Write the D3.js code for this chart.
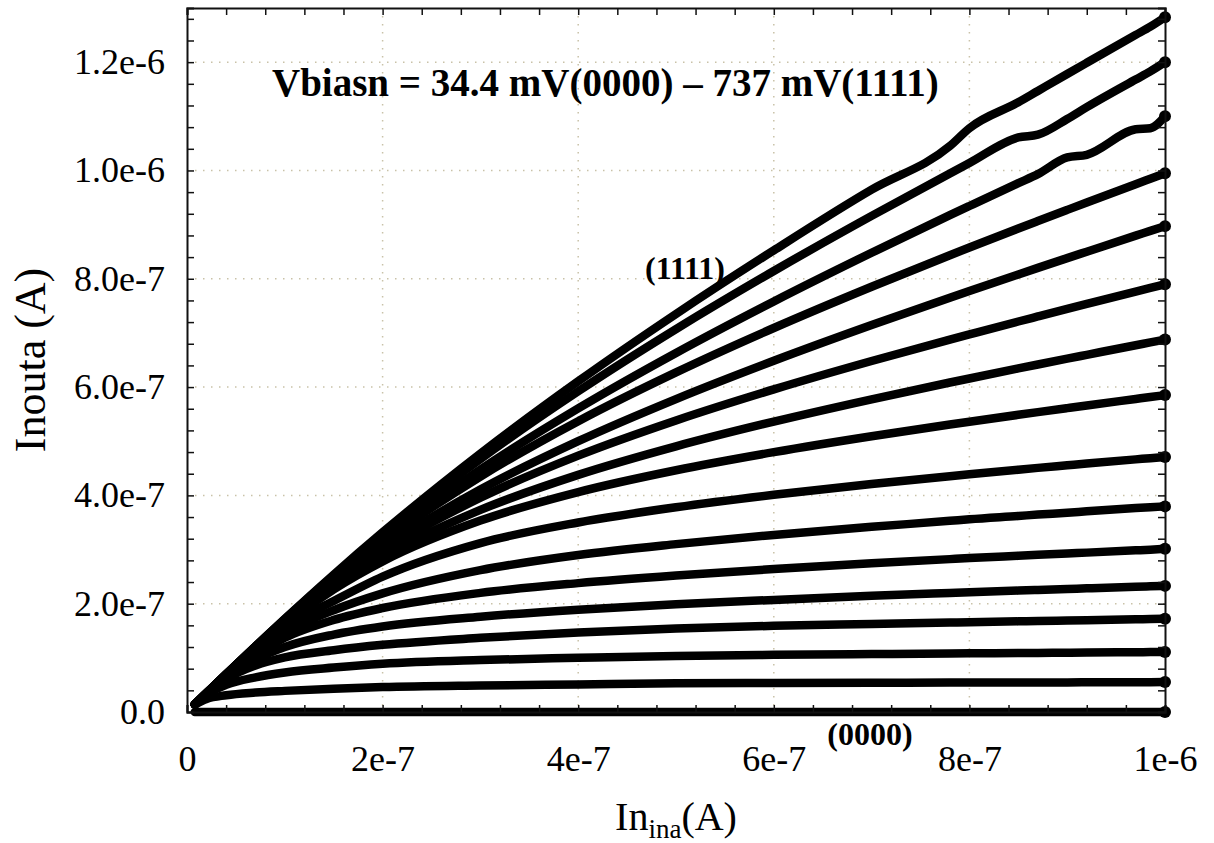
<!DOCTYPE html>
<html>
<head>
<meta charset="utf-8">
<script src="https://cdn.jsdelivr.net/npm/d3@7"></script>
<style>
    body { margin: 0; background: #fff; }
    svg text { font-family: "Liberation Serif", "Times New Roman", serif; fill: #000; }
</style>
</head>
<body>
<div id="chart"></div>
<script>
// In_ina sweep, in uA
var inIna = [0.008, 0.02, 0.04, 0.07, 0.1, 0.15, 0.2, 0.3, 0.4, 0.5, 0.6, 0.7, 0.78, 0.8, 0.85, 0.87, 0.9, 0.92, 0.97, 0.985, 1.0];

// Inouta for each Vbiasn code, in uA
var code1111 = [0.014, 0.035, 0.0698, 0.1214, 0.172, 0.2537, 0.3317, 0.4772, 0.6107, 0.7351, 0.8525, 0.9646, 1.045, 1.078, 1.1259, 1.1468, 1.1781, 1.1988, 1.2503, 1.2656, 1.283];
var code1110 = [0.014, 0.035, 0.0697, 0.1211, 0.1713, 0.2517, 0.3276, 0.4669, 0.5922, 0.7071, 0.8144, 0.9161, 0.9944, 1.0137, 1.061, 1.066, 1.095, 1.117, 1.168, 1.183, 1.200];
var code1101 = [0.014, 0.035, 0.0696, 0.1205, 0.1698, 0.2473, 0.3191, 0.4477, 0.5606, 0.663, 0.7581, 0.848, 0.9174, 0.9344, 0.9766, 0.9932, 1.024, 1.029, 1.076, 1.078, 1.100];
var code1100 = [0.014, 0.0349, 0.0696, 0.1203, 0.169, 0.2451, 0.3143, 0.4348, 0.5371, 0.6272, 0.7091, 0.7853, 0.8435, 0.8577, 0.8928, 0.9066, 0.9272, 0.9409, 0.9747, 0.9847, 0.9947];
var code1011 = [0.014, 0.0349, 0.0694, 0.1194, 0.1667, 0.2389, 0.3029, 0.4107, 0.5, 0.5778, 0.6485, 0.7145, 0.765, 0.7774, 0.808, 0.8201, 0.8381, 0.85, 0.8797, 0.8884, 0.8972];
var code1010 = [0.014, 0.0349, 0.0693, 0.1191, 0.1659, 0.2362, 0.2971, 0.3957, 0.4734, 0.5384, 0.5957, 0.6481, 0.6877, 0.6973, 0.7211, 0.7304, 0.7443, 0.7535, 0.7763, 0.783, 0.7898];
var code1001 = [0.014, 0.0349, 0.0692, 0.1184, 0.1639, 0.2308, 0.2866, 0.3731, 0.4379, 0.4906, 0.5362, 0.5774, 0.6084, 0.6159, 0.6344, 0.6417, 0.6525, 0.6596, 0.6773, 0.6825, 0.6878];
var code1000 = [0.014, 0.0349, 0.0691, 0.1178, 0.1625, 0.2265, 0.2781, 0.3535, 0.4061, 0.4464, 0.4798, 0.5092, 0.5308, 0.536, 0.5488, 0.5538, 0.5612, 0.5661, 0.5781, 0.5817, 0.5852];
var code0111 = [0.014, 0.0348, 0.0687, 0.116, 0.157, 0.205, 0.25, 0.312, 0.35, 0.378, 0.401, 0.421, 0.4355, 0.439, 0.4475, 0.4508, 0.4556, 0.4588, 0.4665, 0.4687, 0.471];
var code0110 = [0.014, 0.0348, 0.068, 0.112, 0.147, 0.188, 0.219, 0.262, 0.29, 0.31, 0.327, 0.342, 0.353, 0.356, 0.362, 0.3645, 0.368, 0.3705, 0.3765, 0.3781, 0.3797];
var code0101 = [0.014, 0.0346, 0.067, 0.106, 0.137, 0.17, 0.192, 0.22, 0.238, 0.252, 0.264, 0.2745, 0.2823, 0.2842, 0.2885, 0.2902, 0.2927, 0.2943, 0.2985, 0.2998, 0.3014];
var code0100 = [0.014, 0.0344, 0.065, 0.097, 0.12, 0.143, 0.158, 0.176, 0.189, 0.199, 0.207, 0.2145, 0.2198, 0.2211, 0.2242, 0.2254, 0.2272, 0.2284, 0.2313, 0.2321, 0.2329];
var code0011 = [0.014, 0.034, 0.061, 0.086, 0.101, 0.114, 0.124, 0.137, 0.147, 0.154, 0.1591, 0.1625, 0.1652, 0.1658, 0.1674, 0.1681, 0.169, 0.1696, 0.1712, 0.1717, 0.1722];
var code0010 = [0.0139, 0.032, 0.05, 0.064, 0.073, 0.082, 0.089, 0.096, 0.1, 0.1035, 0.1055, 0.107, 0.1081, 0.1083, 0.1089, 0.1091, 0.1095, 0.1097, 0.1104, 0.1106, 0.1108];
var code0001 = [0.0135, 0.024, 0.031, 0.036, 0.039, 0.043, 0.046, 0.049, 0.051, 0.053, 0.0535, 0.054, 0.0543, 0.0544, 0.0545, 0.0546, 0.0547, 0.0548, 0.0549, 0.055, 0.0552];
var code0000 = [0, 0, 0, 0, 0, 0, 0, 0, 0, 0, 0, 0, 0, 0, 0, 0, 0, 0, 0, 0, 0];

var curves = [code1111, code1110, code1101, code1100, code1011, code1010, code1001, code1000,
              code0111, code0110, code0101, code0100, code0011, code0010, code0001, code0000];

var xTickValues = [0, 2e-7, 4e-7, 6e-7, 8e-7, 1e-6];
var xTickLabels = ["0", "2e-7", "4e-7", "6e-7", "8e-7", "1e-6"];
var yTickValues = [0, 2e-7, 4e-7, 6e-7, 8e-7, 1e-6, 1.2e-6];
var yTickLabels = ["0.0", "2.0e-7", "4.0e-7", "6.0e-7", "8.0e-7", "1.0e-6", "1.2e-6"];

var svgWidth = 1214;
var svgHeight = 843;
var margin = {top: 8, right: 49, bottom: 131, left: 187};
var width = svgWidth - margin.left - margin.right;
var height = svgHeight - margin.top - margin.bottom;

var svgBG = d3.select("#chart").append("svg")
    .attr("width", svgWidth)
    .attr("height", svgHeight);
var svg = svgBG.append("g")
    .attr("transform", "translate(" + margin.left + "," + margin.top + ")");

var x = d3.scaleLinear().domain([0, 1e-6]).range([0, width]);
var y = d3.scaleLinear().domain([0, 1.3e-6]).range([height, 0]);

// label only the major ticks, minor ones stay blank
function labelFor(values, labels) {
    return function(d) {
        for (var i = 0; i < values.length; i++) {
            if (Math.abs(values[i] - d) < 1e-12) return labels[i];
        }
        return "";
    };
}

var xMinor = d3.range(0, 1.0001e-6, 4e-8);
var yMinor = d3.range(0, 1.3e-6, 4e-8);

// dotted grid
var gridColor = "#c9c2a8";
svg.append("g").selectAll("line")
    .data(xTickValues.slice(1, -1))
    .enter().append("line")
    .attr("x1", function(d) { return x(d); })
    .attr("x2", function(d) { return x(d); })
    .attr("y1", 0)
    .attr("y2", height)
    .style("stroke", gridColor)
    .style("stroke-width", 1.5)
    .style("stroke-dasharray", "1.5,6.5");
svg.append("g").selectAll("line")
    .data(yTickValues.slice(1))
    .enter().append("line")
    .attr("x1", 0)
    .attr("x2", width)
    .attr("y1", function(d) { return y(d); })
    .attr("y2", function(d) { return y(d); })
    .style("stroke", gridColor)
    .style("stroke-width", 1.5)
    .style("stroke-dasharray", "1.5,6.5");

// curves
var line = d3.line()
    .x(function(d, i) { return x(inIna[i] * 1e-6); })
    .y(function(d) { return y(d * 1e-6); })
    .curve(d3.curveMonotoneX);

svg.append("g").selectAll("path")
    .data(curves)
    .enter().append("path")
    .attr("d", line)
    .style("fill", "none")
    .style("stroke", "#000")
    .style("stroke-width", 8.5)
    .style("stroke-linecap", "round")
    .style("stroke-linejoin", "round");

svg.append("g").selectAll("circle")
    .data(curves)
    .enter().append("circle")
    .attr("cx", x(inIna[inIna.length - 1] * 1e-6))
    .attr("cy", function(d) { return y(d[d.length - 1] * 1e-6); })
    .attr("r", 6)
    .style("fill", "#000");

// frame with inward ticks on all sides
var tickLen = -7;
var xAxis = d3.axisBottom(x).tickValues(xMinor).tickSize(tickLen).tickPadding(33)
    .tickFormat(labelFor(xTickValues, xTickLabels));
var xAxisTop = d3.axisTop(x).tickValues(xMinor).tickSize(tickLen).tickFormat("");
var yAxis = d3.axisLeft(y).tickValues(yMinor).tickSize(tickLen).tickPadding(22)
    .tickFormat(labelFor(yTickValues, yTickLabels));
var yAxisRight = d3.axisRight(y).tickValues(yMinor).tickSize(tickLen).tickFormat("");

function styleAxis(g) {
    g.selectAll("path.domain").style("stroke", "#111").style("stroke-width", 2);
    g.selectAll(".tick line").style("stroke", "#111").style("stroke-width", 1.5);
    g.selectAll("text")
        .style("font-family", '"Liberation Serif", "Times New Roman", serif')
        .style("font-size", "36px")
        .style("fill", "#000");
}

svg.append("g").attr("class", "x axis")
    .attr("transform", "translate(0," + height + ")")
    .call(xAxis).call(styleAxis);
svg.append("g").attr("class", "x axis top")
    .call(xAxisTop).call(styleAxis);
svg.append("g").attr("class", "y axis")
    .call(yAxis).call(styleAxis);
svg.append("g").attr("class", "y axis right")
    .attr("transform", "translate(" + width + ",0)")
    .call(yAxisRight).call(styleAxis);

// annotations
svg.append("text")
    .attr("x", 85)
    .attr("y", 88)
    .style("font-size", "39px")
    .style("font-weight", "bold")
    .text("Vbiasn = 34.4 mV(0000) \u2013 737 mV(1111)");

svg.append("text")
    .attr("x", 498)
    .attr("y", 271)
    .attr("text-anchor", "middle")
    .style("font-size", "32px")
    .style("font-weight", "bold")
    .text("(1111)");

svg.append("text")
    .attr("x", 683)
    .attr("y", 737)
    .attr("text-anchor", "middle")
    .style("font-size", "32px")
    .style("font-weight", "bold")
    .text("(0000)");

// axis titles
var xTitle = svgBG.append("text")
    .attr("x", 676)
    .attr("y", 830)
    .attr("text-anchor", "middle")
    .style("font-size", "40px");
xTitle.append("tspan").text("In");
xTitle.append("tspan").attr("dy", 8).style("font-size", "27px").text("ina");
xTitle.append("tspan").attr("dy", -8).text("(A)");

svgBG.append("text")
    .attr("transform", "translate(45,360) rotate(-90)")
    .attr("text-anchor", "middle")
    .style("font-size", "44px")
    .text("Inouta (A)");
</script>
</body>
</html>
